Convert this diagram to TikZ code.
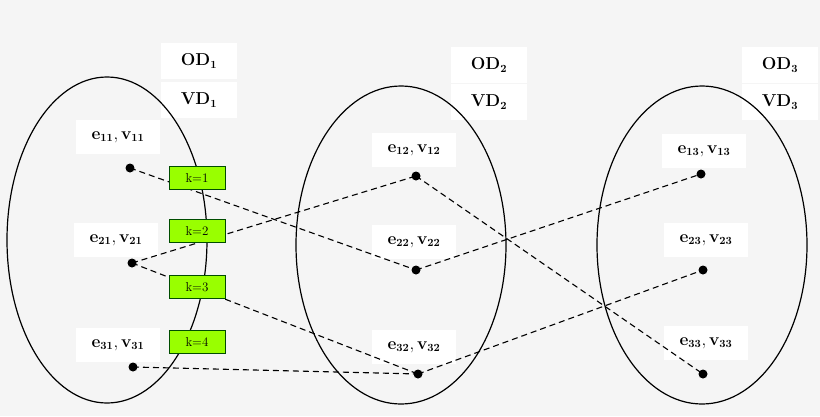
\documentclass[tikz,border=0pt]{standalone}
\usepackage{tikz}
\begin{document}
\begin{tikzpicture}[x=1pt,y=-1pt,
 lbl/.style={fill=white,inner sep=0pt,minimum width=84,minimum height=34,font=\fontsize{16}{18}\selectfont},
 dlbl/.style={fill=white,inner sep=0pt,minimum width=76,minimum height=36,font=\fontsize{16}{18}\selectfont},
 dot/.style={circle,fill=black,inner sep=0pt,minimum size=9},
 kbox/.style={draw=black!70!green,fill=green!70!yellow!90!black,fill=lime!80!green,inner sep=0pt,minimum width=56,minimum height=23,font=\fontsize{13}{14}\selectfont},
 ell/.style={draw,line width=1.2pt},
 con/.style={dashed,line width=1.1pt,dash pattern=on 6pt off 4pt}]
\fill[black!4] (0,0) rectangle (820,416);
\useasboundingbox (0,0) rectangle (820,416);
\node[dlbl] (od1) at (199,61) {$\mathbf{OD_1}$};
\node[dlbl] (vd1) at (199,100) {$\mathbf{VD_1}$};
\node[dlbl] (od2) at (489,65) {$\mathbf{OD_2}$};
\node[dlbl] (vd2) at (489,102) {$\mathbf{VD_2}$};
\node[dlbl] (od3) at (780,65) {$\mathbf{OD_3}$};
\node[dlbl] (vd3) at (780,102) {$\mathbf{VD_3}$};
\draw[ell] (107,240) ellipse [x radius=100,y radius=163];
\draw[ell] (401,245) ellipse [x radius=105,y radius=159];
\draw[ell] (702,245) ellipse [x radius=105,y radius=159];
\node[lbl] (l11) at (118,137) {$\mathbf{e_{11},v_{11}}$};
\node[lbl] (l21) at (116,240) {$\mathbf{e_{21},v_{21}}$};
\node[lbl] (l31) at (118,345) {$\mathbf{e_{31},v_{31}}$};
\node[lbl] (l12) at (414,150) {$\mathbf{e_{12},v_{12}}$};
\node[lbl] (l22) at (414,242) {$\mathbf{e_{22},v_{22}}$};
\node[lbl] (l32) at (414,347) {$\mathbf{e_{32},v_{32}}$};
\node[lbl] (l13) at (704,151) {$\mathbf{e_{13},v_{13}}$};
\node[lbl] (l23) at (706,240) {$\mathbf{e_{23},v_{23}}$};
\node[lbl] (l33) at (706,343) {$\mathbf{e_{33},v_{33}}$};
\node[dot] (d11) at (130,168) {};
\node[dot] (d21) at (132,263) {};
\node[dot] (d31) at (133,367) {};
\node[dot] (d12) at (416,176) {};
\node[dot] (d22) at (416,270) {};
\node[dot] (d32) at (418,374) {};
\node[dot] (d13) at (701,174) {};
\node[dot] (d23) at (703,270) {};
\node[dot] (d33) at (703,374) {};
\draw[con] (d11.center) -- (d22.center);
\draw[con] (d21.center) -- (d12.center);
\draw[con] (d21.center) -- (d32.center);
\draw[con] (d31.center) -- (d32.center);
\draw[con] (d12.center) -- (d33.center);
\draw[con] (d22.center) -- (d13.center);
\draw[con] (d32.center) -- (d23.center);
\node[kbox] (k1) at (197,178) {k=1};
\node[kbox] (k2) at (197,231) {k=2};
\node[kbox] (k3) at (197,287) {k=3};
\node[kbox] (k4) at (197,342) {k=4};
\end{tikzpicture}
\end{document}
